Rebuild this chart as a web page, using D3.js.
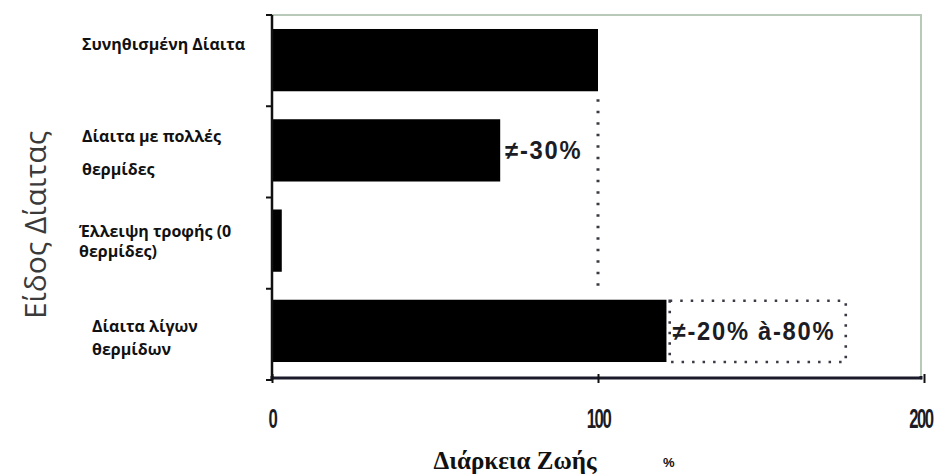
<!DOCTYPE html>
<html>
<head>
<meta charset="utf-8">
<script src="https://cdn.jsdelivr.net/npm/d3@7"></script>
<style>
  html, body { margin: 0; padding: 0; background: #fff; }
  svg { display: block; }
</style>
</head>
<body>
<svg id="chart" width="946" height="475"></svg>
<script>
// ---- data ----
const categories = [
  ["Συνηθισμένη Δίαιτα"],
  ["Δίαιτα με πολλές", "θερμίδες"],
  ["Έλλειψη τροφής (0", "θερμίδες)"],
  ["Δίαιτα λίγων", "θερμίδων"]
];
const lifespan = [100, 70, 3, 121];
const xTicks = [0, 100, 200];
const xTickLabels = ["0", "100", "200"];
const xTitle = "Διάρκεια Ζωής";
const xUnit = "%";
const yTitle = "Είδος Δίαιτας";
const note1 = "≠-30%";
const note2 = "≠-20% à-80%";
const note2Range = [122, 176]; // box extent in axis units
const referenceValue = 100;

// ---- layout ----
const svg = d3.select("#chart");
const mLeft = 272, mRight = 924, mTop = 15, mBottom = 380;

const x = d3.scaleLinear().domain([0, 200]).range([mLeft, mRight]);
const keys = categories.map((c, i) => i);
const y = d3.scaleBand().domain(keys).range([mTop, 376]).paddingInner(0.31).paddingOuter(0.155);
const yTicksScale = d3.scaleLinear().domain([0, categories.length]).range([mTop, mBottom]);

// frame (light) top and right
svg.append("path")
  .attr("d", `M${mLeft},${mTop}H${mRight - 3}V${mBottom}`)
  .attr("fill", "none")
  .attr("stroke", "#b9c9b9")
  .attr("stroke-width", 2);

// bars
svg.append("g").selectAll("rect")
  .data(lifespan)
  .join("rect")
  .attr("x", x(0))
  .attr("y", (d, i) => y(i))
  .attr("width", d => x(d) - x(0))
  .attr("height", y.bandwidth())
  .attr("fill", "#000");

// reference dotted line
svg.append("line")
  .attr("x1", x(referenceValue)).attr("x2", x(referenceValue))
  .attr("y1", y(0) + y.bandwidth() + 8).attr("y2", y(3) - 8)
  .attr("stroke", "#3a3a44")
  .attr("stroke-width", 3)
  .attr("stroke-dasharray", "2.5,9");

// dotted box around note 2
const bx0 = x(note2Range[0]), bx1 = x(note2Range[1]);
const by0 = y(3) + 1, by1 = y(3) + y.bandwidth();
svg.append("rect")
  .attr("x", bx0).attr("y", by0)
  .attr("width", bx1 - bx0).attr("height", by1 - by0)
  .attr("fill", "none")
  .attr("stroke", "#3a3a44")
  .attr("stroke-width", 2.6)
  .attr("stroke-dasharray", "2.5,8");

// annotations (condensed bold)
const annFont = "'Liberation Sans', Arial, sans-serif";
function condensedText(px, py, txt, size, sx, ls) {
  svg.append("text")
    .attr("transform", `translate(${px},${py}) scale(${sx},1)`)
    .attr("font-family", annFont)
    .attr("font-weight", "bold")
    .attr("font-size", size)
    .attr("letter-spacing", ls + "px")
    .attr("fill", "#1c1c24")
    .text(txt);
}
condensedText(x(lifespan[1]) + 5, y(1) + y.bandwidth() / 2 + 9, note1, 25, 0.95, 1.8);
condensedText(bx0 + 3, y(3) + y.bandwidth() / 2 + 9, note2, 25, 0.95, 1.8);

// y axis
svg.append("line")
  .attr("x1", mLeft).attr("x2", mLeft).attr("y1", mTop).attr("y2", mBottom)
  .attr("stroke", "#111").attr("stroke-width", 2.5);
svg.append("g").selectAll("line")
  .data(d3.range(categories.length + 1))
  .join("line")
  .attr("x1", mLeft - 6).attr("x2", mLeft)
  .attr("y1", d => yTicksScale(d)).attr("y2", d => yTicksScale(d))
  .attr("stroke", "#111").attr("stroke-width", 2);

// x axis
const xAxis = d3.axisBottom(x).tickValues(xTicks).tickFormat((d, i) => xTickLabels[i]).tickSize(5).tickPadding(26);
const gx = svg.append("g").attr("transform", `translate(0,${mBottom - 2})`).call(xAxis);
gx.select(".domain").attr("stroke", "#1a1a2a").attr("stroke-width", 3).attr("d", `M${mLeft},-2V0H${mRight - 3}V-2`);
gx.selectAll(".tick line").attr("stroke", "#111").attr("stroke-width", 2).attr("y1", -4).attr("y2", 5);
gx.selectAll(".tick text")
  .attr("font-family", annFont)
  .attr("font-weight", "bold")
  .attr("font-size", 27)
  .attr("fill", "#1c1c24")
  .attr("transform", "scale(0.62,1)")
  .attr("letter-spacing", "-2.5px");
gx.selectAll(".tick").filter(d => d === 200).select("text").attr("x", -6);

// category labels
const catFont = "'Open Sans', 'Noto Sans', sans-serif";
const catPos = [
  { x: 82, ys: [50] },
  { x: 82, ys: [142, 175] },
  { x: 79, ys: [237, 257] },
  { x: 92, ys: [332, 355] }
];
categories.forEach((lines, i) => {
  lines.forEach((t, j) => {
    svg.append("text")
      .attr("x", catPos[i].x)
      .attr("y", catPos[i].ys[j])
      .attr("font-family", catFont)
      .attr("font-weight", 700)
      .attr("font-size", 16)
      .attr("fill", "#111")
      .text(t);
  });
});

// y title
svg.append("text")
  .attr("transform", "translate(46,225) rotate(-90)")
  .attr("text-anchor", "middle")
  .attr("font-family", "'Open Sans', 'Noto Sans', sans-serif")
  .attr("font-weight", 400)
  .attr("font-size", 30)
  .attr("fill", "#3a3a3a")
  .text(yTitle);

// x title
svg.append("text")
  .attr("x", 515).attr("y", 469)
  .attr("text-anchor", "middle")
  .attr("font-family", "'Liberation Serif', 'Times New Roman', serif")
  .attr("font-weight", "bold")
  .attr("font-size", 25)
  .attr("fill", "#111")
  .text(xTitle);
svg.append("text")
  .attr("x", 663).attr("y", 467)
  .attr("font-family", "'Liberation Sans', sans-serif")
  .attr("font-weight", "bold")
  .attr("font-size", 13)
  .attr("fill", "#111")
  .text(xUnit);
</script>
</body>
</html>
